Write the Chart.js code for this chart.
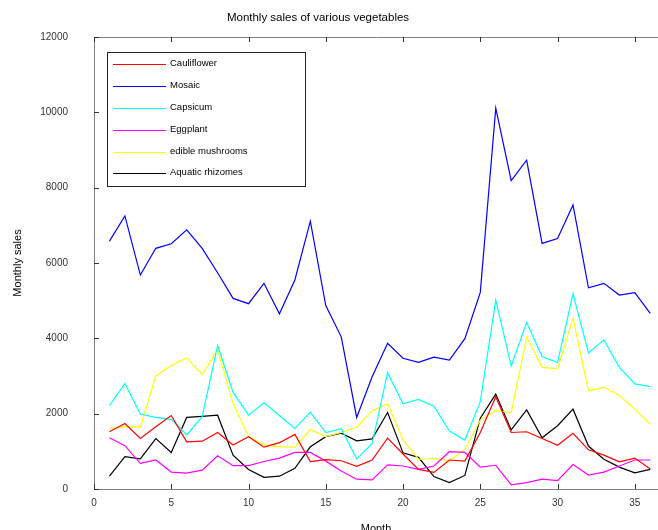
<!DOCTYPE html>
<html>
<head>
<meta charset="utf-8">
<script src="https://cdn.jsdelivr.net/npm/chart.js@4.4.1/dist/chart.umd.min.js"></script>
<style>
  html, body { margin: 0; padding: 0; background: #fff; }
  #wrap { width: 658px; height: 530px; }
</style>
</head>
<body>
<div id="wrap"><canvas id="sales" width="658" height="530"></canvas></div>
<script>
// Monthly sales of various vegetables.

const months = [1,2,3,4,5,6,7,8,9,10,11,12,13,14,15,16,17,18,
                19,20,21,22,23,24,25,26,27,28,29,30,31,32,33,34,35,36];

const cauliflower = [1520,1740,1340,1650,1950,1250,1270,1500,1170,1390,1110,1230,1450,730,780,750,600,770,
                     1350,930,520,440,770,740,1500,2450,1500,1520,1340,1160,1480,1040,900,720,820,530];
const mosaic      = [6580,7250,5680,6390,6510,6880,6390,5740,5060,4920,5460,4650,5550,7110,4870,4040,1900,2980,
                     3870,3470,3360,3500,3420,3990,5220,10110,8190,8730,6520,6650,7540,5340,5460,5150,5210,4660];
const capsicum    = [2210,2800,1990,1900,1850,1440,1920,3810,2570,1960,2290,1950,1610,2040,1500,1600,800,1200,
                     3090,2260,2380,2200,1540,1300,2320,5020,3270,4420,3510,3360,5180,3610,3960,3230,2790,2720];
const eggplant    = [1360,1150,680,770,450,420,500,880,620,620,730,820,970,970,740,480,260,240,
                     640,610,520,610,990,970,580,630,110,170,260,220,650,370,450,610,770,770];
const mushrooms   = [1610,1650,1650,3000,3280,3480,3040,3710,2260,1390,1170,1120,1110,1580,1390,1500,1640,2080,
                     2260,1300,790,810,750,1050,1830,2080,2030,4030,3230,3190,4530,2610,2700,2480,2120,1720];
const rhizomes    = [340,860,800,1340,970,1900,1930,1960,900,520,310,340,550,1120,1390,1480,1280,1330,
                     2030,960,840,330,170,360,1880,2520,1570,2100,1360,1680,2120,1140,790,580,430,520];

const seriesNames  = ['Cauliflower','Mosaic','Capsicum','Eggplant','edible mushrooms','Aquatic rhizomes'];
const seriesValues = [cauliflower, mosaic, capsicum, eggplant, mushrooms, rhizomes];
const seriesColors = ['#ff0000','#0000ff','#00ffff','#ff00ff','#ffff00','#000000'];

const xTicks = [0,5,10,15,20,25,30,35];
const yTicks = [0,2000,4000,6000,8000,10000,12000];

const FONT = 'Liberation Sans, Arial, Helvetica, sans-serif';

// frame + inward tick marks, like the octave-style axes of the original
const axesFrame = {
  id: 'axesFrame',
  afterDraw(chart) {
    const { ctx, chartArea: a, scales: { x, y } } = chart;
    ctx.save();
    ctx.strokeStyle = '#808080';
    ctx.lineWidth = 1;
    ctx.beginPath();
    ctx.moveTo(a.left + 0.5, a.top + 0.5);
    ctx.lineTo(a.right, a.top + 0.5);
    ctx.moveTo(a.left + 0.5, a.top);
    ctx.lineTo(a.left + 0.5, a.bottom + 0.5);
    ctx.lineTo(a.right, a.bottom + 0.5);
    ctx.stroke();

    ctx.strokeStyle = '#333';
    ctx.beginPath();
    xTicks.forEach(v => {
      const px = Math.round(x.getPixelForValue(v)) + 0.5;
      ctx.moveTo(px, a.bottom); ctx.lineTo(px, a.bottom - 5);
      ctx.moveTo(px, a.top);    ctx.lineTo(px, a.top + 5);
    });
    yTicks.forEach(v => {
      const py = Math.round(y.getPixelForValue(v)) + 0.5;
      ctx.moveTo(a.left, py); ctx.lineTo(a.left + 5, py);
    });
    ctx.stroke();
    ctx.restore();
  }
};

// boxed legend inside the plot, top left
const boxLegend = {
  id: 'boxLegend',
  afterDraw(chart) {
    const { ctx } = chart;
    const left = 107, top = 52, w = 198, h = 134, rowH = 21.8;
    ctx.save();
    ctx.fillStyle = '#fff';
    ctx.fillRect(left, top, w, h);
    ctx.strokeStyle = '#222';
    ctx.lineWidth = 1;
    ctx.strokeRect(left + 0.5, top + 0.5, w, h);
    ctx.font = '9.5px ' + FONT;
    ctx.textBaseline = 'middle';
    chart.data.datasets.forEach((ds, i) => {
      const yy = Math.round(top + 12.3 + i * rowH) + 0.5;
      ctx.strokeStyle = ds.borderColor;
      ctx.beginPath();
      ctx.moveTo(113, yy); ctx.lineTo(166, yy);
      ctx.stroke();
      ctx.fillStyle = '#000';
      ctx.fillText(ds.label, 170, yy - 1);
    });
    ctx.restore();
  }
};

const topTitle = {
  id: 'topTitle',
  afterDraw(chart) {
    const { ctx } = chart;
    ctx.save();
    ctx.font = '11.5px ' + FONT;
    ctx.fillStyle = '#000';
    ctx.textAlign = 'center';
    ctx.textBaseline = 'middle';
    ctx.fillText('Monthly sales of various vegetables', 318, 18);
    ctx.restore();
  }
};

new Chart(document.getElementById('sales'), {
  type: 'line',
  data: {
    datasets: seriesNames.map((name, i) => ({
      label: name,
      data: months.map((m, j) => ({ x: m, y: seriesValues[i][j] })),
      borderColor: seriesColors[i],
      borderWidth: 1.2,
      pointRadius: 0,
      tension: 0,
      fill: false,
    })),
  },
  options: {
    responsive: false,
    animation: false,
    devicePixelRatio: 1,
    layout: { padding: { top: 37, right: 0, left: 0, bottom: 0 } },
    plugins: { legend: { display: false }, title: { display: false }, tooltip: { enabled: false } },
    scales: {
      x: {
        type: 'linear',
        min: 0,
        max: 36.5,
        afterBuildTicks: s => { s.ticks = xTicks.map(v => ({ value: v })); },
        afterFit: s => { s.height = 41; },
        grid: { display: false, drawTicks: false },
        border: { display: false },
        ticks: { color: '#333', font: { family: FONT, size: 10 }, padding: 8, maxRotation: 0,
                 callback: v => String(v) },
        title: { display: true, text: 'Month', color: '#000', font: { family: FONT, size: 11 }, padding: { top: 12, bottom: -6 } },
      },
      y: {
        min: 0,
        max: 12000,
        afterBuildTicks: s => { s.ticks = yTicks.map(v => ({ value: v })); },
        afterFit: s => { s.width = 94; },
        grid: { display: false, drawTicks: false },
        border: { display: false },
        ticks: { color: '#333', font: { family: FONT, size: 10 }, padding: 26,
                 callback: v => String(v) },
        title: { display: true, text: 'Monthly sales', color: '#000', font: { family: FONT, size: 11 }, padding: { top: 11, bottom: 0 } },
      },
    },
  },
  plugins: [axesFrame, boxLegend, topTitle],
});
</script>
</body>
</html>
